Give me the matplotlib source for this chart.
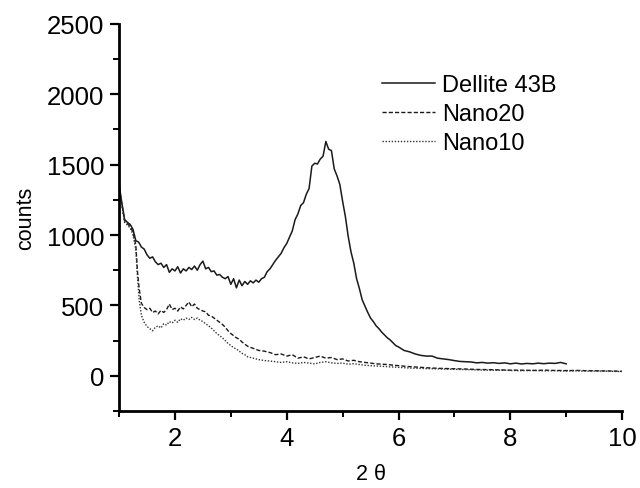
import matplotlib
matplotlib.use("Agg")
import matplotlib.pyplot as plt
from matplotlib.ticker import MultipleLocator

plt.rcParams['font.family'] = ['Liberation Sans', 'DejaVu Sans']

# Dellite 43B (solid)
dellite_x = [1.00, 1.05, 1.10, 1.15, 1.20, 1.25, 1.30, 1.35, 1.40, 1.45,
             1.50, 1.55, 1.60, 1.65, 1.70, 1.75, 1.80, 1.85, 1.90, 1.95,
             2.00, 2.05, 2.10, 2.15, 2.20, 2.25, 2.30, 2.35, 2.40, 2.45,
             2.50, 2.55, 2.60, 2.65, 2.70, 2.75, 2.80, 2.85, 2.90, 2.95,
             3.00, 3.05, 3.10, 3.15, 3.20, 3.25, 3.30, 3.35, 3.40, 3.45,
             3.50, 3.55, 3.60, 3.65, 3.70, 3.75, 3.80, 3.85, 3.90, 3.95,
             4.00, 4.05, 4.10, 4.15, 4.20, 4.25, 4.30, 4.35, 4.40, 4.45,
             4.50, 4.55, 4.60, 4.65, 4.70, 4.75, 4.80, 4.85, 4.90, 4.95,
             5.00, 5.05, 5.10, 5.15, 5.20, 5.25, 5.30, 5.35, 5.40, 5.45,
             5.50, 5.55, 5.60, 5.65, 5.70, 5.75, 5.80, 5.85, 5.90, 5.95,
             6.00, 6.10, 6.20, 6.30, 6.40, 6.50, 6.60, 6.70, 6.80, 6.90,
             7.00, 7.10, 7.20, 7.30, 7.40, 7.50, 7.60, 7.70, 7.80, 7.90,
             8.00, 8.10, 8.20, 8.30, 8.40, 8.50, 8.60, 8.70, 8.80, 8.90, 9.00]
dellite_y = [1360, 1230, 1110, 1090, 1075, 1040, 960, 950, 915, 900,
             860, 835, 845, 810, 790, 800, 770, 790, 735, 760,
             745, 775, 730, 760, 745, 770, 755, 780, 750, 790,
             815, 760, 770, 740, 745, 715, 720, 700, 690, 705,
             650, 690, 625, 680, 640, 670, 650, 675, 660, 680,
             665, 690, 700, 740, 760, 790, 820, 845, 870, 910,
             940, 985, 1030, 1110, 1150, 1210, 1230, 1290, 1330, 1490,
             1510, 1505, 1540, 1560, 1665, 1610, 1600, 1470, 1420, 1360,
             1240, 1130, 990, 880, 800, 690, 620, 540, 495, 450,
             410, 385, 355, 335, 310, 290, 270, 255, 235, 215,
             205, 180, 170, 155, 145, 140, 140, 125, 120, 115,
             108, 102, 100, 98, 92, 95, 90, 93, 88, 92,
             85, 90, 84, 88, 85, 90, 86, 90, 88, 95, 85]

# Nano20 (dashed)
nano20_x = [1.00, 1.05, 1.10, 1.15, 1.20, 1.25, 1.30, 1.33, 1.36, 1.40,
            1.45, 1.50, 1.55, 1.60, 1.65, 1.70, 1.75, 1.80, 1.85, 1.90,
            1.95, 2.00, 2.05, 2.10, 2.15, 2.20, 2.25, 2.30, 2.35, 2.40,
            2.45, 2.50, 2.55, 2.60, 2.65, 2.70, 2.75, 2.80, 2.85, 2.90,
            2.95, 3.00, 3.05, 3.10, 3.15, 3.20, 3.25, 3.30, 3.40, 3.50,
            3.60, 3.70, 3.80, 3.90, 4.00, 4.10, 4.20, 4.30, 4.40, 4.50,
            4.60, 4.70, 4.80, 4.90, 5.00, 5.10, 5.20, 5.30, 5.40, 5.50,
            5.60, 5.80, 6.00, 6.20, 6.40, 6.60, 6.80, 7.00, 7.20, 7.40,
            7.60, 7.80, 8.00, 8.20, 8.40, 8.60, 8.80, 9.00, 9.20, 9.40,
            9.60, 9.80, 10.00]
nano20_y = [1340, 1220, 1100, 1080, 1060, 1020, 930, 740, 620, 515,
            485, 470, 480, 450, 460, 440, 465, 450, 470, 510,
            470, 480, 460, 490, 475, 500, 525, 490, 510, 480,
            470, 460, 455, 430, 425, 410, 395, 380, 365, 345,
            320, 300, 285, 270, 260, 240, 225, 210, 195, 180,
            175, 165, 150, 155, 140, 150, 125, 135, 120, 130,
            140, 125, 130, 115, 120, 105, 110, 100, 95, 90,
            85, 80, 72, 65, 60, 55, 52, 50, 48, 45,
            44, 42, 40, 40, 38, 40, 38, 37, 38, 36,
            35, 34, 32]

# Nano10 (dotted)
nano10_x = nano20_x
nano10_y = [1330, 1210, 1090, 1070, 1050, 1000, 900, 700, 540, 430,
            380, 350, 335, 320, 345, 355, 340, 370, 360, 385,
            375, 395, 380, 405, 395, 410, 400, 415, 400, 410,
            395, 385, 370, 355, 340, 320, 300, 285, 270, 250,
            230, 215, 200, 190, 175, 160, 150, 135, 125, 115,
            108, 105, 100, 95, 100, 92, 88, 95, 90, 85,
            95, 100, 92, 88, 90, 82, 86, 80, 75, 72,
            70, 65, 60, 55, 52, 50, 48, 46, 44, 42,
            40, 40, 38, 36, 38, 35, 36, 34, 35, 33,
            34, 32, 30]

fig = plt.figure(figsize=(6.4, 4.89), dpi=100)
ax = fig.add_axes([0.186, 0.1575, 0.786, 0.7915])

line_color = '#1a1a1a'
ax.plot(dellite_x, dellite_y, color=line_color, lw=1.1, ls='-', label='Dellite 43B')
ax.plot(nano20_x, nano20_y, color=line_color, lw=1.0, ls=(0, (3, 1.5)), label='Nano20')
ax.plot(nano10_x, nano10_y, color='#333333', lw=1.0, ls=(0, (1, 1.2)), label='Nano10')

ax.set_xlim(1, 10)
ax.set_ylim(-250, 2500)
ax.xaxis.set_major_locator(MultipleLocator(2))
ax.xaxis.set_minor_locator(MultipleLocator(1))
ax.yaxis.set_major_locator(MultipleLocator(500))
ax.yaxis.set_minor_locator(MultipleLocator(250))

for side in ['top', 'right']:
    ax.spines[side].set_visible(False)
for side in ['left', 'bottom']:
    ax.spines[side].set_linewidth(2)

ax.tick_params(which='major', direction='out', length=6.5, width=1.6, labelsize=18.5, pad=4)
ax.tick_params(which='minor', direction='out', length=4, width=1.4)

ax.set_xlabel('2 θ', fontsize=15.5, labelpad=10)
ax.set_ylabel('counts', fontsize=15.5, labelpad=8)

leg = ax.legend(loc='upper left', bbox_to_anchor=(0.597, 0.847),
                bbox_transform=fig.transFigure, frameon=False, fontsize=17,
                handlelength=2.25, handletextpad=0.3, labelspacing=0.3,
                borderpad=0, borderaxespad=0)

fig.savefig('out.png', dpi=100)
